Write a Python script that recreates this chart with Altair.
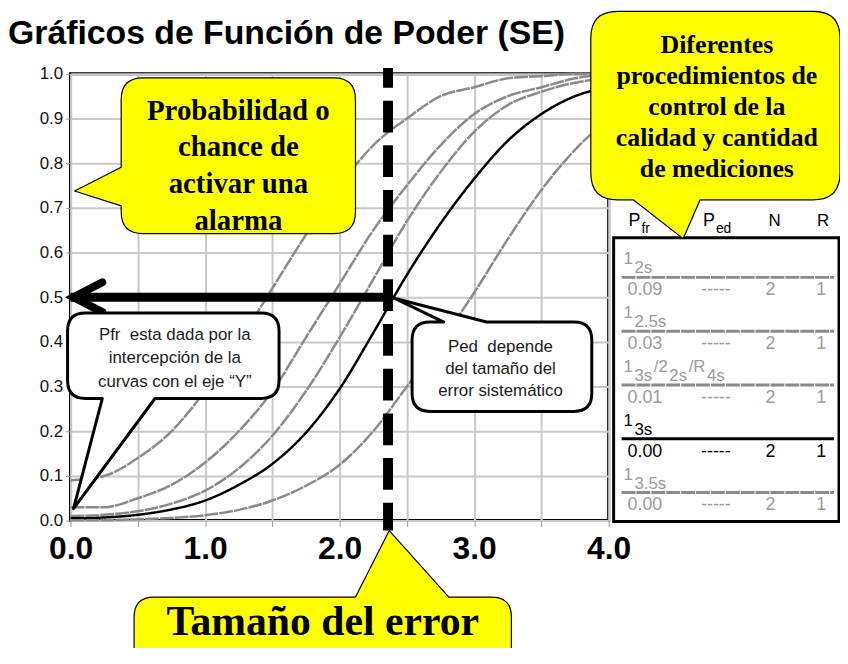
import altair as alt
import pandas as pd

# ---------------- data ----------------
se = [0.0, 0.25, 0.5, 0.75, 1.0, 1.25, 1.5, 1.75, 2.0, 2.25, 2.5, 2.75, 3.0, 3.25, 3.5, 3.75, 4.0]
p_1_2s = [0.09, 0.10, 0.14, 0.20, 0.29, 0.40, 0.52, 0.64, 0.75, 0.84, 0.90, 0.95, 0.97, 0.99, 0.995, 1.0, 1.0]
p_1_25s = [0.03, 0.03, 0.05, 0.08, 0.13, 0.20, 0.29, 0.41, 0.53, 0.65, 0.75, 0.84, 0.91, 0.95, 0.97, 0.99, 1.0]
p_multi = [0.01, 0.013, 0.021, 0.038, 0.067, 0.117, 0.19, 0.29, 0.41, 0.54, 0.67, 0.78, 0.87, 0.93, 0.96, 0.98, 0.99]
p_1_3s = [0.005, 0.007, 0.013, 0.025, 0.045, 0.08, 0.127, 0.197, 0.295, 0.42, 0.55, 0.665, 0.765, 0.85, 0.91, 0.95, 0.97]
p_1_35s = [0.001, 0.001, 0.003, 0.006, 0.012, 0.024, 0.045, 0.078, 0.125, 0.20, 0.30, 0.40, 0.51, 0.63, 0.74, 0.83, 0.90]

rule_keys = ["1_2s", "1_2.5s", "1_3s/2_2s/R_4s", "1_3s", "1_3.5s"]
series = [p_1_2s, p_1_25s, p_multi, p_1_3s, p_1_35s]
highlight = [False, False, False, True, False]
label_parts = [
    [("1", True), ("2s", False)],
    [("1", True), ("2.5s", False)],
    [("1", True), ("3s", False), ("/2", True), ("2s", False), ("/R", True), ("4s", False)],
    [("1", True), ("3s", False)],
    [("1", True), ("3.5s", False)],
]
pfr_vals = ["0.09", "0.03", "0.01", "0.00", "0.00"]
ped_vals = ["-----", "-----", "-----", "-----", "-----"]
n_vals = ["2", "2", "2", "2", "2"]
r_vals = ["1", "1", "1", "1", "1"]

se_marker = 2.36
p_level = 0.5
x_ticks = [0.0, 0.5, 1.0, 1.5, 2.0, 2.5, 3.0, 3.5, 4.0]
y_ticks = [0.0, 0.1, 0.2, 0.3, 0.4, 0.5, 0.6, 0.7, 0.8, 0.9, 1.0]

# ---------------- layout ----------------
OX, OY = 71, 72          # page position of plot origin
PW, PH = 542, 450        # plot size
TW, TH = 838, 640        # total svg size
SANS = "Liberation Sans, Arial, sans-serif"
SERIF = "Liberation Serif, Times New Roman, serif"
GRAY = "#8a8a8a"
TGRAY = "#9a9a9a"
YELLOW = "#ffff00"
GDASH = [14, 1]

dummy = pd.DataFrame({"k": [0]})

rows = []
for key, vals in zip(rule_keys, series):
    for s, p in zip(se, vals):
        rows.append({"se": s, "p": p, "rule": key})
df_curves = pd.DataFrame(rows)
df_arrow = pd.DataFrame({"se": [0.0], "se2": [se_marker], "p": [p_level]})
df_marker = pd.DataFrame({"se": [se_marker]})

X = alt.X("se:Q", title=None,
          scale=alt.Scale(domain=[0, 4], nice=False, zero=False),
          axis=alt.Axis(values=x_ticks,
                        labelExpr="datum.value % 1 == 0 ? format(datum.value, '.1f') : ''",
                        labelFont=SANS, labelFontSize=32, labelFontWeight="bold",
                        labelColor="black", labelPadding=7, labelOverlap=False, labelFlush=False,
                        tickSize=6, tickColor="#999999", tickWidth=1, domain=False,
                        grid=True, gridColor="#c8c8c8", gridWidth=2))
Y = alt.Y("p:Q", title=None,
          scale=alt.Scale(domain=[0, 1], nice=False, zero=False),
          axis=alt.Axis(values=y_ticks, format=".1f",
                        labelFont=SANS, labelFontSize=17, labelColor="#111111",
                        labelPadding=3, labelOverlap=False, labelFlush=False,
                        tickSize=5, tickColor="#999999", tickWidth=1, domain=False,
                        grid=True, gridColor="#c8c8c8", gridWidth=2))


def txt(s, px, py, size, color="black", font=SANS, weight="normal", align="left", baseline="middle"):
    return alt.Chart(dummy).mark_text(
        text=s, font=font, fontSize=size, fontWeight=weight, color=color,
        align=align, baseline=baseline
    ).encode(x=alt.value(px - OX), y=alt.value(py - OY))


def callout_path(L, T, R, B, r, side=None, b1=None, b2=None, tip=None):
    def P(x, y):
        return f"{x - OX:.1f},{y - OY:.1f}"
    d = [f"M{P(L + r, T)}"]
    if side == "top":
        d += [f"L{P(b1, T)}", f"L{P(*tip)}", f"L{P(b2, T)}"]
    d += [f"L{P(R - r, T)}", f"Q{P(R, T)},{P(R, T + r)}", f"L{P(R, B - r)}", f"Q{P(R, B)},{P(R - r, B)}"]
    if side == "bottom":
        d += [f"L{P(b2, B)}", f"L{P(*tip)}", f"L{P(b1, B)}"]
    d += [f"L{P(L + r, B)}", f"Q{P(L, B)},{P(L, B - r)}"]
    if side == "left":
        d += [f"L{P(L, b2)}", f"L{P(*tip)}", f"L{P(L, b1)}"]
    d += [f"L{P(L, T + r)}", f"Q{P(L, T)},{P(L + r, T)}", "Z"]
    return "".join(d)


def shape(path, fill, stroke="black", sw=1.2):
    return alt.Chart(dummy).mark_point(
        shape=path, size=4, filled=True, fill=fill, stroke=stroke, strokeWidth=sw,
        opacity=1, strokeJoin="round"
    ).encode(x=alt.value(0), y=alt.value(0))


layers = []

# curves
for key, hl in zip(rule_keys, highlight):
    layers.append(
        alt.Chart(df_curves).transform_filter(alt.datum.rule == key).mark_line(
            color="black" if hl else GRAY, strokeWidth=2.5,
            strokeDash=[1, 0] if hl else GDASH, interpolate="monotone"
        ).encode(x=X, y=Y)
    )

# horizontal arrow at 0.5
layers.append(alt.Chart(df_arrow).mark_rule(color="black", strokeWidth=9).encode(x=X, x2="se2:Q", y=Y))
layers.append(alt.Chart(df_arrow).mark_point(
    shape="M32,-15L3,0L32,15", size=4, filled=False, stroke="black", strokeWidth=8,
    opacity=1, strokeCap="round", strokeJoin="miter"
).encode(x=X, y=Y))

# callouts (drawn before the dashed line)
layers.append(shape(callout_path(122, 76, 358, 233, 22, "left", 166, 205, (75, 190)), YELLOW))
layers.append(shape(callout_path(68, 313, 281, 399, 18, "bottom", 103, 156, (74, 510)), "white", sw=3))
layers.append(shape(callout_path(415, 322, 596, 412, 18, "top", 447, 490, (397, 298)), "white", sw=3))
layers.append(shape(callout_path(135, 599, 515, 700, 20, "top", 358, 452, (392, 532)), YELLOW))

# vertical dashed marker
layers.append(alt.Chart(df_marker).mark_rule(
    color="black", strokeWidth=10, strokeDash=[32, 13], strokeDashOffset=12
).encode(x=X, y=alt.value(66 - OY), y2=alt.value(532 - OY)))

# table frame
layers.append(alt.Chart(dummy).mark_rect(fill="white", stroke="black", strokeWidth=3).encode(
    x=alt.value(618 - OX), x2=alt.value(845 - OX), y=alt.value(237 - OY), y2=alt.value(523 - OY)))

# top-right callout over the table
layers.append(shape(callout_path(595, 9, 846, 199, 27, "bottom", 638, 705, (688, 238)), YELLOW))

# title
layers.append(txt("Gráficos de Función de Poder (SE)", 8, 42, 34, weight="bold", baseline="alphabetic"))

# callout texts
for i, line in enumerate(["Probabilidad o", "chance de", "activar una", "alarma"]):
    layers.append(txt(line, 240, 109 + 37 * i, 29, font=SERIF, weight="bold", align="center"))
for i, line in enumerate(["Diferentes", "procedimientos de", "control de la", "calidad y cantidad", "de mediciones"]):
    layers.append(txt(line, 722, 43 + 31.3 * i, 26, font=SERIF, weight="bold", align="center"))
for i, line in enumerate(["Pfr\u00a0 esta dada por la", "intercepción de la", "curvas con el eje “Y”"]):
    layers.append(txt(line, 176, 335 + 23.5 * i, 17, color="#1a1a1a", align="center"))
for i, line in enumerate(["Ped\u00a0 depende", "del tamaño del", "error sistemático"]):
    layers.append(txt(line, 504, 347 + 22 * i, 17, color="#1a1a1a", align="center"))
layers.append(txt("Tamaño del error", 325, 637, 42, font=SERIF, weight="bold", align="center",
                  baseline="alphabetic"))

# table header
layers.append(txt("P", 633, 220, 18))
layers.append(txt("fr", 646, 228, 14))
layers.append(txt("P", 708, 220, 18))
layers.append(txt("ed", 721, 228, 14))
layers.append(txt("N", 780, 220, 17, align="center"))
layers.append(txt("R", 829, 220, 17, align="center"))

# table rows
CW = {"0": .556, "1": .556, "2": .556, "3": .556, "4": .556, "5": .556, ".": .278, "s": .5, "/": .278, "R": .722}
STEP = 54.2
for i, (parts, hl, pf, pe, nv, rv) in enumerate(zip(label_parts, highlight, pfr_vals, ped_vals, n_vals, r_vals)):
    col = "black" if hl else TGRAY
    base = i * STEP
    xcur = 628.0
    for piece, up in parts:
        layers.append(txt(piece, xcur, (259 if up else 268) + base, 17, color=col))
        xcur += sum(CW[c] for c in piece) * 17 + 1.5
    layers.append(alt.Chart(dummy).mark_rule(
        color="black" if hl else GRAY, strokeWidth=3,
        strokeDash=[1, 0] if hl else GDASH
    ).encode(x=alt.value(626 - OX), x2=alt.value(840 - OX), y=alt.value(277 + base - OY)))
    layers.append(txt(pf, 632, 290 + base, 18, color=col))
    layers.append(txt(pe, 721, 290 + base, 18, color=col, align="center"))
    layers.append(txt(nv, 776, 290 + base, 18, color=col, align="center"))
    layers.append(txt(rv, 827, 290 + base, 18, color=col, align="center"))

chart = alt.layer(*layers).properties(
    width=PW, height=PH,
    autosize=alt.AutoSizeParams(type="none"),
    padding={"left": OX - 8, "top": OY - 8, "right": TW - (OX - 8) - PW, "bottom": TH - (OY - 8) - PH},
    background="white",
).configure_view(stroke="black", strokeWidth=3)

chart.save("out.html", embed_options={"renderer": "svg", "actions": False})
